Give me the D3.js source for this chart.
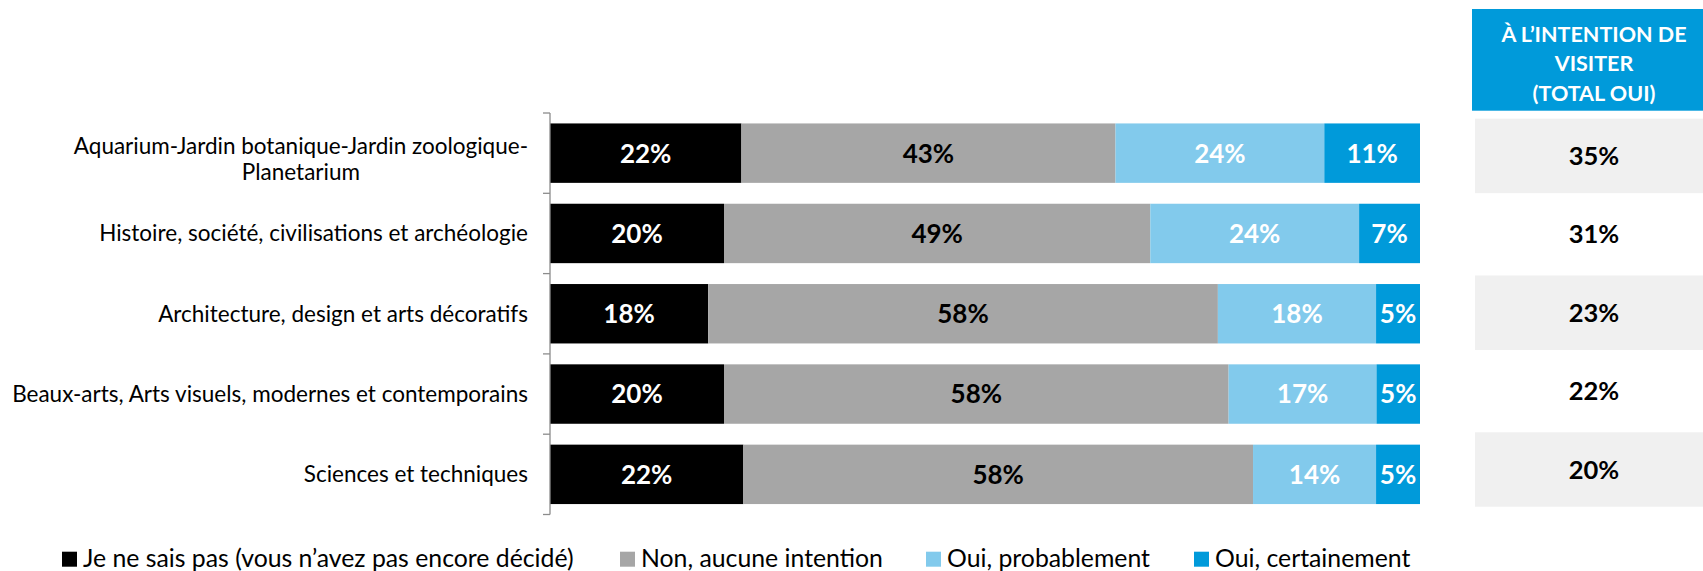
<!DOCTYPE html>
<html>
<head>
<meta charset="utf-8">
<script src="https://cdn.jsdelivr.net/npm/d3@7/dist/d3.min.js"></script>
<style>
  html, body { margin: 0; padding: 0; background: #fff; }
  svg { display: block; }
  text { font-family: Lato, "Open Sans", sans-serif; }
</style>
</head>
<body>
<svg id="chart" width="1703" height="571"></svg>
<script>
// ---- DATA ----
const categories = [
  "Aquarium-Jardin botanique-Jardin zoologique-Planetarium",
  "Histoire, société, civilisations et archéologie",
  "Architecture, design et arts décoratifs",
  "Beaux-arts, Arts visuels, modernes et contemporains",
  "Sciences et techniques"
];
const categoryLines = [
  ["Aquarium-Jardin botanique-Jardin zoologique-", "Planetarium"],
  ["Histoire, société, civilisations et archéologie"],
  ["Architecture, design et arts décoratifs"],
  ["Beaux-arts, Arts visuels, modernes et contemporains"],
  ["Sciences et techniques"]
];
const seriesNames = [
  "Je ne sais pas (vous n’avez pas encore décidé)",
  "Non, aucune intention",
  "Oui, probablement",
  "Oui, certainement"
];
const jeNeSaisPas     = [22, 20, 18, 20, 22];
const nonAucune       = [43, 49, 58, 58, 58];
const ouiProbablement = [24, 24, 18, 17, 14];
const ouiCertainement = [11,  7,  5,  5,  5];
const totalOui        = [35, 31, 23, 22, 20];
const headerLines = ["À L’INTENTION DE", "VISITER", "(TOTAL OUI)"];

// ---- STYLE ----
const colors = ["#000000", "#A6A6A6", "#82CAEC", "#009ADA"];
const labelColors = ["#FFFFFF", "#000000", "#FFFFFF", "#FFFFFF"];

const svg = d3.select("#chart");

const seriesArrays = [jeNeSaisPas, nonAucune, ouiProbablement, ouiCertainement];
const table = categories.map((c, i) => {
  const row = { category: c };
  seriesNames.forEach((s, k) => row[s] = seriesArrays[k][i]);
  return row;
});
const stacked = d3.stack().keys(seriesNames).offset(d3.stackOffsetExpand)(table);

const x = d3.scaleLinear().domain([0, 1]).range([550, 1420]);
const y = d3.scaleBand().domain(categories).range([113, 514.5]).paddingInner(0.26).paddingOuter(0.13);

// bars
const layers = svg.append("g").selectAll("g").data(stacked).join("g")
  .attr("fill", (d, k) => colors[k]);
layers.selectAll("rect").data(d => d).join("rect")
  .attr("x", d => x(d[0]))
  .attr("y", d => y(d.data.category))
  .attr("width", d => x(d[1]) - x(d[0]))
  .attr("height", y.bandwidth());

// bar labels
stacked.forEach((layer, k) => {
  svg.append("g").selectAll("text").data(layer).join("text")
    .attr("x", d => (x(d[0]) + x(d[1])) / 2)
    .attr("y", d => y(d.data.category) + y.bandwidth() / 2)
    .attr("dy", "0.36em")
    .attr("text-anchor", "middle")
    .attr("font-size", 26)
    .attr("font-weight", 700)
    .attr("fill", labelColors[k])
    .text(d => d.data[layer.key] + "%");
});

// y axis (ticks between categories)
const axisG = svg.append("g");
axisG.append("line")
  .attr("x1", 550).attr("x2", 550)
  .attr("y1", 113).attr("y2", 514.5)
  .attr("stroke", "#8C8C8C").attr("stroke-width", 1.3);
const tickYs = categories.map(c => y(c) - y.step() * y.paddingInner() / 2);
tickYs.push(y(categories[categories.length - 1]) + y.bandwidth() + y.step() * y.paddingInner() / 2);
axisG.selectAll("line.tick").data(tickYs).join("line")
  .attr("class", "tick")
  .attr("x1", 543).attr("x2", 550)
  .attr("y1", d => d).attr("y2", d => d)
  .attr("stroke", "#8C8C8C").attr("stroke-width", 1.3);

// category labels
categoryLines.forEach((lines, i) => {
  const multi = lines.length > 1;
  const cy = y(categories[i]) + y.bandwidth() / 2 + (multi ? 6 : 0);
  const g = svg.append("g");
  const texts = g.selectAll("text").data(lines).join("text")
    .attr("font-size", 22.5)
    .attr("fill", "#000")
    .attr("dy", "0.35em")
    .text(d => d);
  const widths = [];
  texts.each(function() { widths.push(this.getComputedTextLength()); });
  const maxW = d3.max(widths);
  const right = 528;
  const lh = 26;
  texts
    .attr("text-anchor", "middle")
    .attr("x", right - maxW / 2)
    .attr("y", (d, j) => cy + (j - (lines.length - 1) / 2) * lh);
});

// right panel
const colCenter = 1594;
svg.append("rect")
  .attr("x", 1472).attr("y", 9).attr("width", 250).attr("height", 101.7)
  .attr("fill", "#009ADA");
svg.append("g").selectAll("text").data(headerLines).join("text")
  .attr("x", colCenter)
  .attr("y", (d, j) => 41.5 + j * 29.5)
  .attr("text-anchor", "middle")
  .attr("font-size", 21.5)
  .attr("font-weight", 700)
  .attr("fill", "#FFFFFF")
  .text(d => d);

const yt = d3.scaleBand().domain(categories).range([116.7, 508.7]).paddingInner(0.05).paddingOuter(0.025);
svg.append("g").selectAll("rect").data(categories.filter((c, i) => i % 2 === 0)).join("rect")
  .attr("x", 1475).attr("width", 250)
  .attr("y", d => yt(d)).attr("height", yt.bandwidth())
  .attr("fill", "#F0F0F0");
svg.append("g").selectAll("text").data(totalOui).join("text")
  .attr("x", colCenter)
  .attr("y", (d, i) => yt(categories[i]) + yt.bandwidth() / 2)
  .attr("dy", "0.36em")
  .attr("text-anchor", "middle")
  .attr("font-size", 25.5)
  .attr("font-weight", 700)
  .attr("fill", "#000")
  .text(d => d + "%");

// legend
const legendX = [62, 620, 926, 1194];
const legend = svg.append("g").selectAll("g").data(seriesNames).join("g")
  .attr("transform", (d, k) => `translate(${legendX[k]},0)`);
legend.append("rect")
  .attr("x", 0).attr("y", 551.7).attr("width", 15).attr("height", 15)
  .attr("fill", (d, k) => colors[k]);
legend.append("text")
  .attr("x", 21).attr("y", 567)
  .attr("font-size", 24.8)
  .attr("fill", "#000")
  .text(d => d);
</script>
</body>
</html>
